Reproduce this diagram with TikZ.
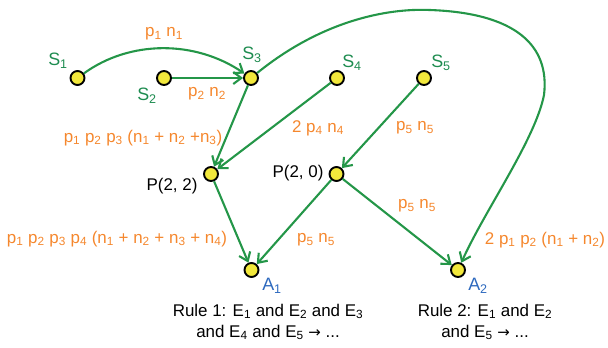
\documentclass[tikz,border=0pt]{standalone}
\usepackage{fontspec}
\setmainfont{Liberation Sans}
\newfontfamily\arrowfont{DejaVu Sans}
\usetikzlibrary{arrows.meta}
\definecolor{edgegreen}{RGB}{36,150,72}
\definecolor{sgreen}{RGB}{30,140,80}
\definecolor{lblorange}{RGB}{245,135,45}
\definecolor{ablue}{RGB}{45,105,190}
\definecolor{dotyellow}{RGB}{242,232,60}
\newcommand{\sbx}[1]{\textsubscript{#1}}
\newcommand{\rarr}{{\arrowfont\fontsize{15}{21}\selectfont →}}
\tikzset{
  dot/.style={circle,draw=black,line width=1.9pt,fill=dotyellow,minimum size=14bp,inner sep=0pt},
  conn/.style={draw=edgegreen,line width=2.1pt,-{Straight Barb[length=8bp,width=12bp,line width=2.1pt]}},
  elbl/.style={text=lblorange,inner sep=0pt,font=\fontsize{17}{19}\selectfont},
  slbl/.style={text=sgreen,inner sep=0pt,font=\fontsize{18}{20}\selectfont},
  albl/.style={text=ablue,inner sep=0pt,font=\fontsize{18}{20}\selectfont},
  plbl/.style={text=black,inner sep=0pt,font=\fontsize{17}{19}\selectfont},
  rule/.style={text=black,inner sep=0pt,align=center,font=\fontsize{17}{21}\selectfont}
}
\begin{document}
\begin{tikzpicture}[x=1bp,y=-1bp]
\useasboundingbox (0,0) rectangle (608,347);
% nodes
\node[dot] (S1) at (77.5,78) {};
\node[dot] (S2) at (164,78) {};
\node[dot] (S3) at (251,78) {};
\node[dot] (S4) at (337,78) {};
\node[dot] (S5) at (424,78) {};
\node[dot] (P22) at (211,174) {};
\node[dot] (P20) at (336.5,174) {};
\node[dot] (A1) at (251.5,270) {};
\node[dot] (A2) at (458,270) {};
% edges
\draw[conn] (S1) .. controls (130,40) and (195,40) .. (S3);
\draw[conn] (S2) -- (S3);
\draw[conn] (S3) -- (P22);
\draw[conn] (S4) -- (P22);
\draw[conn] (S5) -- (P20);
\draw[conn] (P22) -- (A1);
\draw[conn] (P20) -- (A1);
\draw[conn] (P20) -- (A2);
\draw[conn] (S3) .. controls (320,22) and (385,8) .. (430,10)
  .. controls (515,13) and (550,45) .. (544,95)
  .. controls (535,140) and (485,210) .. (A2);
% node labels
\node[slbl] (lS1) at (58,61) {S\sbx{1}};
\node[slbl] (lS2) at (147,96) {S\sbx{2}};
\node[slbl] (lS3) at (252,55) {S\sbx{3}};
\node[slbl] (lS4) at (352,63) {S\sbx{4}};
\node[slbl] (lS5) at (441,63) {S\sbx{5}};
\node[plbl] (lP22) at (172,186) {P(2, 2)};
\node[plbl] (lP20) at (298,173) {P(2, 0)};
\node[albl] (lA1) at (272,286) {A\sbx{1}};
\node[albl] (lA2) at (478,286) {A\sbx{2}};
% edge labels
\node[elbl] (e1) at (164,34) {p\sbx{1} n\sbx{1}};
\node[elbl] (e2) at (207,94) {p\sbx{2} n\sbx{2}};
\node[elbl] (e3) at (143,138) {p\sbx{1} p\sbx{2} p\sbx{3} (n\sbx{1} + n\sbx{2} +n\sbx{3})};
\node[elbl] (e4) at (318,128) {2 p\sbx{4} n\sbx{4}};
\node[elbl] (e5) at (415,128) {p\sbx{5} n\sbx{5}};
\node[elbl] (e6) at (117,239) {p\sbx{1} p\sbx{2} p\sbx{3} p\sbx{4} (n\sbx{1} + n\sbx{2} + n\sbx{3} + n\sbx{4})};
\node[elbl] (e7) at (316,240) {p\sbx{5} n\sbx{5}};
\node[elbl] (e8) at (417,206) {p\sbx{5} n\sbx{5}};
\node[elbl] (e9) at (545,240) {2 p\sbx{1} p\sbx{2} (n\sbx{1} + n\sbx{2})};
% rules
\node[rule] (r1) at (268,322) {Rule 1: E\sbx{1} and E\sbx{2} and E\sbx{3}\\and E\sbx{4} and E\sbx{5} \rarr{} ...};
\node[rule] (r2) at (485,322) {Rule 2: E\sbx{1} and E\sbx{2}\\and E\sbx{5} \rarr{} ...};
\end{tikzpicture}
\end{document}
